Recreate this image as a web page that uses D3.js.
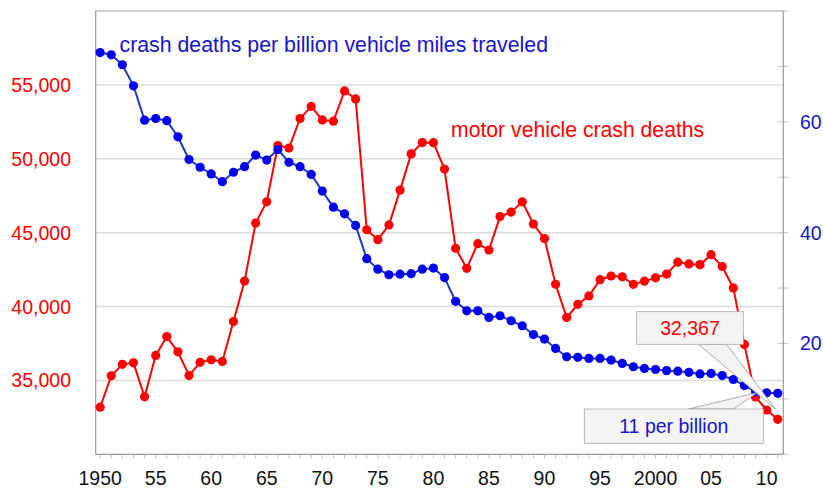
<!DOCTYPE html>
<html>
<head>
<meta charset="utf-8">
<script src="https://cdn.jsdelivr.net/npm/d3@7"></script>
<style>
  body { margin: 0; background: #fff; }
  svg text { font-family: "Liberation Sans", Arial, sans-serif; }
</style>
</head>
<body>
<div id="chart"></div>
<script>
var width = 823,
    height = 490;

// data
var years = d3.range(1950, 2012);

var deaths = [33186, 35309, 36088, 36190, 33890, 36688, 37965, 36932, 35331, 36223,
              36399, 36285, 38980, 41723, 45645, 47089, 50894, 50724, 52725, 53543,
              52627, 52542, 54589, 54052, 45196, 44525, 45523, 47878, 50331, 51093,
              51091, 49301, 43945, 42589, 44257, 43825, 46087, 46390, 47087, 45582,
              44599, 41508, 39250, 40150, 40716, 41817, 42065, 42013, 41501, 41717,
              41945, 42196, 43005, 42884, 42836, 43510, 42708, 41259, 37423, 33883,
              32999, 32367];

var ratePerBillion = [72.5, 72.1, 70.3, 66.5, 60.3, 60.6, 60.2, 57.3, 53.2, 51.8,
                      50.6, 49.2, 50.9, 51.9, 54.0, 53.1, 55.0, 52.7, 51.9, 50.5,
                      47.5, 44.6, 43.4, 41.3, 35.3, 33.4, 32.4, 32.5, 32.6, 33.4,
                      33.6, 31.9, 27.6, 25.9, 25.9, 24.7, 25.0, 24.1, 23.2, 21.6,
                      20.8, 19.1, 17.6, 17.5, 17.3, 17.3, 17.0, 16.4, 15.8, 15.5,
                      15.3, 15.1, 15.0, 14.8, 14.5, 14.6, 14.2, 13.5, 12.4, 11.3,
                      11.1, 11.0];

var leftTicks = [35000, 40000, 45000, 50000, 55000];
var rightTicks = [0, 10, 20, 30, 40, 50, 60, 70, 80];
var rightLabels = [20, 40, 60];
var xLabelYears = [1950, 1955, 1960, 1965, 1970, 1975, 1980, 1985, 1990, 1995, 2000, 2005, 2010];
var xLabelText = ["1950", "55", "60", "65", "70", "75", "80", "85", "90", "95", "2000", "05", "10"];

var red = "#ff0000",
    blueDot = "#0000f0",
    blueLine = "#2038c0",
    blueText = "#1515cc";

var plot = {left: 95.7, right: 783.3, top: 11, bottom: 454.3};

var x = d3.scaleLinear().domain([1949.6, 2011.5]).range([plot.left, plot.right]);
var yL = d3.scaleLinear().domain([30000, 60000]).range([plot.bottom, plot.top]);
var yR = d3.scaleLinear().domain([0, 80]).range([plot.bottom, plot.top]);

var svg = d3.select("#chart").append("svg")
    .attr("width", width)
    .attr("height", height);

// gridlines
svg.append("g").selectAll("line")
    .data(leftTicks.concat([60000]))
    .enter().append("line")
      .attr("x1", plot.left).attr("x2", plot.right)
      .attr("y1", function(d) { return yL(d); })
      .attr("y2", function(d) { return yL(d); })
      .attr("stroke", function(d) { return d == 60000 ? "#c0c0c0" : "#dcdcdc"; })
      .attr("stroke-width", 1.5);

// left axis labels
svg.append("g").selectAll("text")
    .data(leftTicks)
    .enter().append("text")
      .attr("x", 71)
      .attr("y", function(d) { return yL(d) + 7; })
      .attr("text-anchor", "end")
      .attr("fill", red)
      .style("font-size", "19.5px")
      .text(d3.format(","));

// right axis ticks + labels
svg.append("g").selectAll("line")
    .data(rightTicks)
    .enter().append("line")
      .attr("x1", plot.right - 5).attr("x2", plot.right + 5)
      .attr("y1", function(d) { return yR(d); })
      .attr("y2", function(d) { return yR(d); })
      .attr("stroke", "#c8c8c8");

svg.append("g").selectAll("text")
    .data(rightLabels)
    .enter().append("text")
      .attr("x", 800)
      .attr("y", function(d) { return yR(d) + 7; })
      .attr("fill", blueText)
      .style("font-size", "19.5px")
      .text(function(d) { return d; });

// x ticks
svg.append("g").selectAll("line")
    .data(years)
    .enter().append("line")
      .attr("x1", function(d) { return x(d); })
      .attr("x2", function(d) { return x(d); })
      .attr("y1", plot.bottom).attr("y2", plot.bottom + 4)
      .attr("stroke", "#c8c8c8");

svg.append("g").selectAll("text")
    .data(xLabelYears)
    .enter().append("text")
      .attr("x", function(d) { return x(d); })
      .attr("y", 485)
      .attr("text-anchor", "middle")
      .attr("fill", "#111")
      .style("font-size", "19.5px")
      .text(function(d, i) { return xLabelText[i]; });

// frame lines
svg.append("line").attr("x1", plot.left).attr("x2", plot.left)
    .attr("y1", plot.top).attr("y2", plot.bottom)
    .attr("stroke", "#999").attr("stroke-width", 1.2);
svg.append("line").attr("x1", plot.right).attr("x2", plot.right)
    .attr("y1", plot.top).attr("y2", plot.bottom)
    .attr("stroke", "#999").attr("stroke-width", 1.2);
svg.append("line").attr("x1", plot.left).attr("x2", plot.right)
    .attr("y1", plot.bottom).attr("y2", plot.bottom)
    .attr("stroke", "#999").attr("stroke-width", 1.2);

// red series
var redLine = d3.line()
    .x(function(d, i) { return x(years[i]); })
    .y(function(d) { return yL(d); });

svg.append("path")
    .datum(deaths)
    .attr("d", redLine)
    .attr("fill", "none")
    .attr("stroke", red)
    .attr("stroke-width", 2);

svg.append("g").selectAll("circle")
    .data(deaths)
    .enter().append("circle")
      .attr("cx", function(d, i) { return x(years[i]); })
      .attr("cy", function(d) { return yL(d); })
      .attr("r", 4.6)
      .attr("fill", red);

// blue series
var blueLineGen = d3.line()
    .x(function(d, i) { return x(years[i]); })
    .y(function(d) { return yR(d); });

svg.append("path")
    .datum(ratePerBillion)
    .attr("d", blueLineGen)
    .attr("fill", "none")
    .attr("stroke", blueLine)
    .attr("stroke-width", 2);

svg.append("g").selectAll("circle")
    .data(ratePerBillion)
    .enter().append("circle")
      .attr("cx", function(d, i) { return x(years[i]); })
      .attr("cy", function(d) { return yR(d); })
      .attr("r", 4.6)
      .attr("fill", blueDot);

// series labels
svg.append("text")
    .attr("x", 119.5).attr("y", 52)
    .attr("fill", blueText)
    .style("font-size", "21.3px")
    .text("crash deaths per billion vehicle miles traveled");

svg.append("text")
    .attr("x", 451).attr("y", 136.5)
    .attr("fill", red)
    .style("font-size", "21.2px")
    .text("motor vehicle crash deaths");

// callouts
function callout(bx, by, bw, bh, p1, p2, tip, label, color) {
  var g = svg.append("g");
  g.append("path")
    .attr("d", "M" + p1 + "," + (by + (tip[1] > by ? bh : 0)) +
               "L" + tip[0] + "," + tip[1] +
               "L" + p2 + "," + (by + (tip[1] > by ? bh : 0)) + "Z")
    .attr("fill", "#f4f4f4")
    .attr("stroke", "#999")
    .attr("stroke-width", 0.8);
  g.append("rect")
    .attr("x", bx).attr("y", by)
    .attr("width", bw).attr("height", bh)
    .attr("fill", "#f4f4f4")
    .attr("stroke", "#aaa")
    .attr("stroke-width", 0.8);
  g.append("text")
    .attr("x", bx + bw / 2).attr("y", by + bh / 2 + 7)
    .attr("text-anchor", "middle")
    .attr("fill", color)
    .style("font-size", "19.5px")
    .text(label);
}

callout(636.7, 311.7, 106.6, 32.6, 698.5, 726.5,
        [x(2011) - 2, yL(deaths[deaths.length - 1]) - 10], "32,367", red);
callout(584.3, 409, 179, 34.3, 688.5, 733.5,
        [x(2009) + 1.5, yR(ratePerBillion[ratePerBillion.length - 3]) + 1], "11 per billion", blueText);
</script>
</body>
</html>
